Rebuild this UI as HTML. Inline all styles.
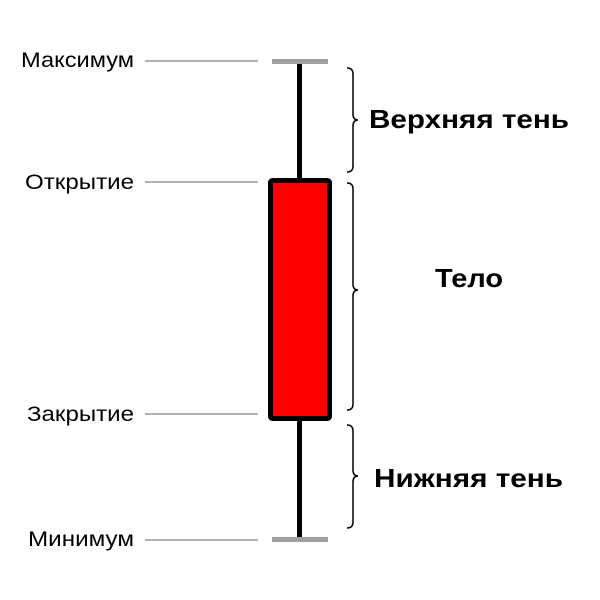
<!DOCTYPE html>
<html><head><meta charset="utf-8"><style>
html,body{margin:0;padding:0;background:#fff;}
svg{display:block}
text{font-family:"Liberation Sans",sans-serif;}
</style></head><body>
<svg width="600" height="600" viewBox="0 0 600 600">
<g stroke="#999" stroke-width="1.5">
<line x1="145" y1="61" x2="258" y2="61"/>
<line x1="145" y1="182" x2="258" y2="182"/>
<line x1="145" y1="414" x2="258" y2="414"/>
<line x1="145" y1="540" x2="258" y2="540"/>
</g>
<g font-size="21" fill="#000">
<text x="21" y="67" textLength="113" lengthAdjust="spacingAndGlyphs">Максимум</text>
<text x="25" y="189" textLength="109" lengthAdjust="spacingAndGlyphs">Открытие</text>
<text x="27" y="421" textLength="107" lengthAdjust="spacingAndGlyphs">Закрытие</text>
<text x="28" y="546" textLength="106" lengthAdjust="spacingAndGlyphs">Минимум</text>
</g>
<line x1="299.5" y1="62" x2="299.5" y2="540" stroke="#000" stroke-width="5"/>
<rect x="272" y="59" width="56" height="5" fill="#a0a0a0"/>
<rect x="272" y="537" width="56" height="5" fill="#a0a0a0"/>
<rect x="270.5" y="180.5" width="59" height="238" fill="#ff0000" stroke="#000" stroke-width="5" rx="2"/>
<g fill="none" stroke="#000" stroke-width="1.5">
<path d="M347 68 Q353 68 353 74 L353 114 Q353 120 358 120 Q353 120 353 126 L353 166 Q353 172 347 172"/>
<path d="M347 183 Q353 183 353 189 L353 284 Q353 290 358 290 Q353 290 353 296 L353 404 Q353 410 347 410"/>
<path d="M347 425 Q353 425 353 431 L353 470 Q353 476 358 476 Q353 476 353 482 L353 522 Q353 528 347 528"/>
</g>
<g font-size="26" font-weight="bold" fill="#000">
<text x="369" y="128" textLength="200" lengthAdjust="spacingAndGlyphs">Верхняя тень</text>
<text x="435" y="287" textLength="68" lengthAdjust="spacingAndGlyphs">Тело</text>
<text x="374" y="487" textLength="189" lengthAdjust="spacingAndGlyphs">Нижняя тень</text>
</g>
</svg>
</body></html>
